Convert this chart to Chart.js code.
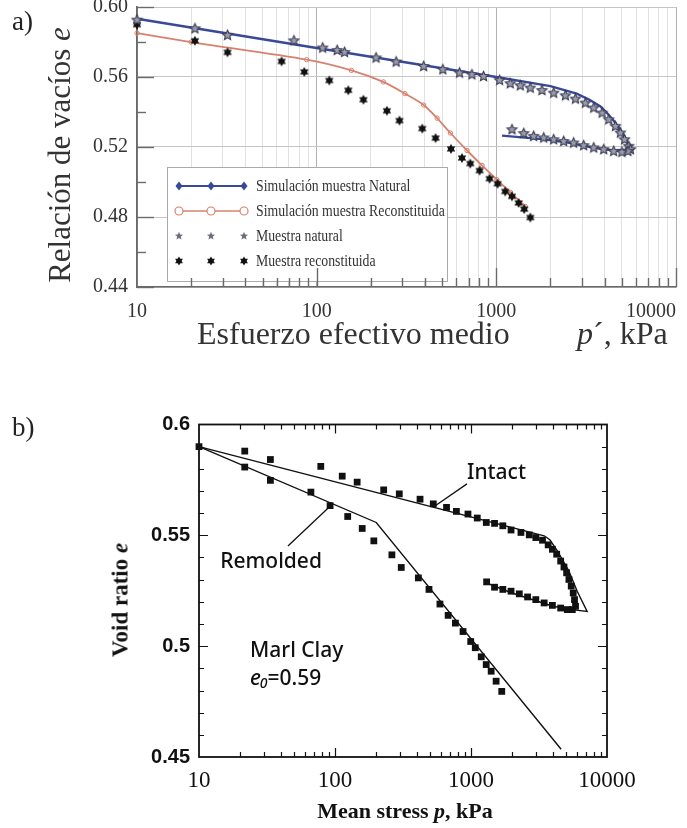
<!DOCTYPE html>
<html>
<head>
<meta charset="utf-8">
<script src="https://cdn.jsdelivr.net/npm/chart.js@4.4.0/dist/chart.umd.min.js"></script>
<style>
  html, body { margin: 0; padding: 0; background: #fff; }
  body { width: 687px; height: 828px; position: relative; overflow: hidden; }
  canvas { position: absolute; left: 0; }
  #chartA { top: 0; }
  #chartB { top: 410px; }
  .t { position: absolute; white-space: nowrap; line-height: 1; color: #222; }
  .serif { font-family: "Liberation Serif", "Times New Roman", serif; }
  .rot { transform: translate(-50%, -50%) rotate(-90deg); }
</style>
</head>
<body>
<canvas id="chartA" width="687" height="320"></canvas>
<canvas id="chartB" width="687" height="400"></canvas>

<div class="t serif" style="left:12px; top:8px; font-size:27px;">a)</div>
<div class="t serif rot" style="left:59px; top:155px; font-size:31px; color:#333;">Relación de vacíos <i>e</i></div>
<div class="t serif" style="left:197px; top:317px; font-size:32px; color:#333;">Esfuerzo efectivo medio</div>
<div class="t serif" style="left:577px; top:317px; font-size:32px; color:#333;"><i>p</i>´, kPa</div>

<div class="t serif" style="left:12px; top:414px; font-size:27px;">b)</div>
<div class="t serif rot" style="left:120px; top:600px; font-size:23px; font-weight:bold; color:#111;">Void ratio <i>e</i></div>
<div class="t serif" style="left:405px; top:800px; font-size:22px; font-weight:bold; color:#111; transform:translateX(-50%);">Mean stress <i>p</i>, kPa</div>

<script>
// ---------- shared axis ticks ----------
const pTickValues = [10, 20, 30, 40, 50, 60, 70, 80, 90,
                     100, 200, 300, 400, 500, 600, 700, 800, 900,
                     1000, 2000, 3000, 4000, 5000, 6000, 7000, 8000, 9000, 10000];
const pTickLabels = [10, 100, 1000, 10000];

// ---------- a) ----------
const eTicksA  = [0.44, 0.46, 0.48, 0.50, 0.52, 0.54, 0.56, 0.58, 0.60];
const eLabelsA = [0.44, 0.48, 0.52, 0.56, 0.60];

// Simulación muestra Natural (loading, then unloading)
const simNatP = [10, 100, 1000, 2000, 2800, 3300, 3800, 4130, 4500, 4900, 5250, 5580,
                 4500, 3500, 2500, 1800, 1075];
const simNatE = [0.5933, 0.5766, 0.5600, 0.5548, 0.5505, 0.5470, 0.5432, 0.5394, 0.5350, 0.5300, 0.5245, 0.5185,
                 0.5180, 0.5195, 0.5225, 0.5245, 0.5265];

// Simulación muestra Reconstituida
const simRecP = [10, 20, 88, 156, 235, 310, 394, 468, 555, 687, 832, 1008, 1200, 1450];
const simRecE = [0.5851, 0.5799, 0.5699, 0.5638, 0.5572, 0.5505, 0.5440, 0.5365, 0.5280, 0.5180, 0.5095, 0.5013, 0.4940, 0.4860];

// Muestra natural (loading, then unloading)
const natP = [10, 21, 31.9, 74.7, 108, 130, 143, 214, 277, 394, 504, 624, 731, 849, 1043, 1195,
              1359, 1545, 1795, 2084, 2423, 2754, 3130, 3483, 3879, 4222, 4600, 4900, 5170, 5460, 5580,
              5400, 5000, 4497, 3960, 3483, 3061, 2692, 2370, 2085, 1834, 1612, 1420, 1222];
const natE = [0.5925, 0.5876, 0.5838, 0.5807, 0.5766, 0.5752, 0.5741, 0.5709, 0.5686, 0.5660, 0.5642, 0.5623, 0.5613, 0.5603, 0.5581, 0.5562,
              0.5550, 0.5537, 0.5523, 0.5508, 0.5493, 0.5474, 0.5451, 0.5423, 0.5394, 0.5356, 0.5318, 0.5280, 0.5242, 0.5204, 0.5185,
              0.5175, 0.5170, 0.5175, 0.5185, 0.5195, 0.5208, 0.5223, 0.5232, 0.5242, 0.5252, 0.5261, 0.5277, 0.5299];

// Muestra reconstituida
const recP = [10, 21, 31.9, 63.8, 85.3, 117.5, 150, 182, 246, 289, 387, 459, 559, 644, 716, 807, 917, 1016,
              1121, 1222, 1331, 1430, 1546];
const recE = [0.5899, 0.5807, 0.5741, 0.5689, 0.5629, 0.5580, 0.5524, 0.5470, 0.5407, 0.5351, 0.5305, 0.5251, 0.5189, 0.5137, 0.5105, 0.5065, 0.5019, 0.4990,
              0.4946, 0.4918, 0.4880, 0.4845, 0.4797];

const legendItemsA = ['Simulación muestra Natural', 'Simulación muestra Reconstituida',
                      'Muestra natural', 'Muestra reconstituida'];

// ---------- b) ----------
const eTicksB = [0.45, 0.46, 0.47, 0.48, 0.49, 0.50, 0.51, 0.52, 0.53, 0.54, 0.55, 0.56, 0.57, 0.58, 0.59, 0.60];
const eLabelsB = [0.45, 0.50, 0.55, 0.60];

// model curves
const intactSimP = [10, 3450, 3800, 4313, 5248, 6036, 7145, 5500, 4000, 3000, 2000, 1303];
const intactSimE = [0.5900, 0.5498, 0.5480, 0.5430, 0.5339, 0.5248, 0.5157, 0.5165, 0.5180, 0.5205, 0.5240, 0.5285];
const remoldSimP = [10, 201, 4600];
const remoldSimE = [0.5900, 0.5558, 0.4535];

// measured, intact (loading, then unloading)
const intactP = [10, 21.7, 33.5, 78.6, 113, 145.5, 228, 297, 422, 528, 661, 781, 950, 1112, 1295, 1490, 1714,
                 1970, 2329, 2682, 2997, 3355, 3694, 3968, 4266, 4563, 4826, 5047, 5248, 5458, 5646, 5770, 5870, 5560,
                 5108, 4563, 3968, 3450, 2997, 2606, 2266, 1970, 1714, 1490, 1303];
const intactE = [0.5900, 0.5880, 0.5842, 0.5811, 0.5767, 0.5740, 0.5705, 0.5687, 0.5663, 0.5642, 0.5626, 0.5608, 0.5596, 0.5578, 0.5558, 0.5554, 0.5543,
                 0.5524, 0.5513, 0.5502, 0.5490, 0.5478, 0.5457, 0.5437, 0.5415, 0.5384, 0.5357, 0.5331, 0.5301, 0.5271, 0.5240, 0.5210, 0.5180, 0.5165,
                 0.5165, 0.5172, 0.5184, 0.5195, 0.5210, 0.5222, 0.5236, 0.5248, 0.5256, 0.5266, 0.5290];

// measured, remolded
const remoldP = [21.7, 33.5, 66.5, 92, 124, 158.5, 193, 262, 307, 410, 491, 591, 679, 768, 874, 995, 1075,
                 1189, 1294, 1407, 1530, 1683];
const remoldE = [0.5808, 0.5748, 0.5695, 0.5634, 0.5585, 0.5531, 0.5475, 0.5412, 0.5355, 0.5308, 0.5256, 0.5190, 0.5139, 0.5104, 0.5066, 0.5021, 0.4993,
                 0.4952, 0.4917, 0.4887, 0.4842, 0.4796];

// text placed in data coordinates of panel b
const labelsB = [
  { text: 'Intact',    p: 934,  e: 0.5779 },
  { text: 'Remolded',  p: 14.3, e: 0.5378 },
  { text: 'Marl Clay', p: 23.7, e: 0.4976 }
];
const e0LabelB = { p: 23.7, e: 0.4854, value: '=0.59' };
const leadersB = [
  { from: [934, 0.5732], to: [553, 0.5636] },
  { from: [45.1, 0.5452], to: [96.6, 0.5644] }
];

// ---------- helpers ----------
const pts = (xs, ys) => xs.map((v, i) => ({ x: v, y: ys[i] }));
const near = (list, v) => list.some(l => Math.abs(l - v) < 1e-9);
const isDecade = v => near(pTickLabels, v);

function starPath(g, cx, cy, n, ro, ri) {
  g.beginPath();
  for (let k = 0; k < 2 * n; k++) {
    const r = k % 2 ? ri : ro;
    const a = -Math.PI / 2 + k * Math.PI / n;
    const px = cx + r * Math.cos(a), py = cy + r * Math.sin(a);
    if (k) g.lineTo(px, py); else g.moveTo(px, py);
  }
  g.closePath();
}
function markerImage(n, ro, ri, fill, stroke) {
  const c = document.createElement('canvas');
  c.width = c.height = Math.ceil(ro * 2 + 4);
  const g = c.getContext('2d');
  starPath(g, c.width / 2, c.height / 2, n, ro, ri);
  g.fillStyle = fill; g.fill();
  if (stroke) { g.strokeStyle = stroke; g.lineWidth = 1.1; g.stroke(); }
  return c;
}
const natMarker = markerImage(5, 5.2, 2.4, '#9c9dab', '#383a52');
const recMarker = markerImage(6, 4.9, 2.8, '#111', null);

const BLUE = '#3a4898', SALMON = '#d7826f';

// ---------- a) decorations: legend box and inner ticks ----------
const decorA = {
  id: 'decorA',
  afterDatasetsDraw(chart) {
    const { ctx, chartArea: a, scales: { x, y } } = chart;
    ctx.save();
    // legend
    const bx = 167, by = 167, bw = 280, bh = 114;
    ctx.fillStyle = '#fff';
    ctx.fillRect(bx, by, bw, bh);
    ctx.strokeStyle = '#aaa'; ctx.lineWidth = 1;
    ctx.strokeRect(bx + 0.5, by + 0.5, bw, bh);
    const rows = [186, 211, 236, 261];
    const sx = [179, 211, 244];
    // row 1
    ctx.strokeStyle = BLUE; ctx.lineWidth = 1.8;
    ctx.beginPath(); ctx.moveTo(sx[0], rows[0]); ctx.lineTo(sx[2], rows[0]); ctx.stroke();
    ctx.fillStyle = BLUE;
    sx.forEach(cx => {
      ctx.beginPath();
      ctx.moveTo(cx, rows[0] - 4.5); ctx.lineTo(cx + 3.5, rows[0]);
      ctx.lineTo(cx, rows[0] + 4.5); ctx.lineTo(cx - 3.5, rows[0]); ctx.closePath(); ctx.fill();
    });
    // row 2
    ctx.strokeStyle = SALMON; ctx.lineWidth = 1.6;
    ctx.beginPath(); ctx.moveTo(sx[0], rows[1]); ctx.lineTo(sx[2], rows[1]); ctx.stroke();
    sx.forEach(cx => {
      ctx.beginPath(); ctx.arc(cx, rows[1], 4, 0, Math.PI * 2);
      ctx.fillStyle = '#fff'; ctx.fill(); ctx.lineWidth = 1.2; ctx.stroke();
    });
    // row 3 and 4
    sx.forEach(cx => {
      starPath(ctx, cx, rows[2], 5, 4.3, 1.9); ctx.fillStyle = '#6d6d78'; ctx.fill();
      starPath(ctx, cx, rows[3], 6, 4.5, 2.6); ctx.fillStyle = '#111'; ctx.fill();
    });
    ctx.fillStyle = '#333';
    ctx.font = '16px "Liberation Serif", serif';
    ctx.textBaseline = 'middle';
    legendItemsA.forEach((txt, i) => {
      ctx.save(); ctx.translate(256, rows[i] + 0.5); ctx.scale(0.86, 1);
      ctx.fillText(txt, 0, 0); ctx.restore();
    });

    // inner ticks
    ctx.strokeStyle = '#6a6a6a'; ctx.lineWidth = 1.4;
    eTicksA.forEach(v => {
      const py = Math.round(y.getPixelForValue(v)) + 0.5;
      const len = near(eLabelsA, v) ? 17 : 9;
      ctx.beginPath(); ctx.moveTo(a.left, py); ctx.lineTo(a.left + len, py); ctx.stroke();
    });
    pTickValues.forEach(v => {
      if (v === 10) return;
      const px = Math.round(x.getPixelForValue(v)) + 0.5;
      const len = isDecade(v) ? 19 : 9;
      ctx.beginPath(); ctx.moveTo(px, a.bottom); ctx.lineTo(px, a.bottom - len); ctx.stroke();
    });
    ctx.restore();
  }
};

new Chart(document.getElementById('chartA'), {
  type: 'scatter',
  data: {
    datasets: [
      { label: legendItemsA[2], data: pts(natP, natE), pointStyle: natMarker, pointRadius: 5, showLine: false, clip: false },
      { label: legendItemsA[3], data: pts(recP, recE), pointStyle: recMarker, pointRadius: 5, showLine: false, clip: false },
      { label: legendItemsA[0], data: pts(simNatP, simNatE), showLine: true, borderColor: BLUE, borderWidth: 2.4,
        pointRadius: 0, tension: 0, clip: false },
      { label: legendItemsA[1], data: pts(simRecP, simRecE), showLine: true, borderColor: SALMON, borderWidth: 1.8,
        pointRadius: 2.2, pointStyle: 'circle', pointBorderColor: SALMON, pointBackgroundColor: 'rgba(255,255,255,0)',
        pointBorderWidth: 1, tension: 0.25, clip: false }
    ]
  },
  options: {
    responsive: false, animation: false, devicePixelRatio: 1, events: [],
    layout: { padding: { top: 7, right: 11, bottom: 0, left: 0 } },
    plugins: { legend: { display: false }, tooltip: { enabled: false } },
    scales: {
      x: {
        type: 'logarithmic', min: 10, max: 10000,
        afterBuildTicks: s => { s.ticks = [{ value: 9.999 }].concat(pTickValues.map(v => ({ value: v }))); },
        afterFit: s => { s.height = 33; s.paddingLeft = 0; s.paddingRight = 0; },
        ticks: {
          align: 'inner', autoSkip: false, maxRotation: 0, padding: 13, color: '#333',
          font: { family: '"Liberation Serif", serif', size: 20 },
          callback: v => isDecade(v) ? String(v) : ''
        },
        grid: {
          drawTicks: false, lineWidth: 1,
          color: c => (c.tick && isDecade(c.tick.value)) ? '#b2b2b2'
                    : (c.tick && near(pTickValues, c.tick.value)) ? '#e2e2e2' : 'rgba(0,0,0,0)'
        },
        border: { color: '#6a6a6a', width: 1.6 }
      },
      y: {
        min: 0.44, max: 0.60,
        afterBuildTicks: s => { s.ticks = eTicksA.map(v => ({ value: v })); },
        afterFit: s => { s.width = 137; s.paddingTop = 0; s.paddingBottom = 0; },
        ticks: {
          autoSkip: false, padding: 9, color: '#333',
          font: { family: '"Liberation Serif", serif', size: 20 },
          callback: v => near(eLabelsA, v) ? v.toFixed(2) : ''
        },
        grid: {
          drawTicks: false, lineWidth: 1,
          color: c => (c.tick && near(eLabelsA, c.tick.value)) ? '#c6c6c6' : 'rgba(0,0,0,0)'
        },
        border: { color: '#6a6a6a', width: 1.8 }
      }
    }
  },
  plugins: [decorA]
});

// ---------- b) decorations: frame, inner ticks, labels ----------
const decorB = {
  id: 'decorB',
  afterDatasetsDraw(chart) {
    const { ctx, chartArea: a, scales: { x, y } } = chart;
    ctx.save();
    ctx.strokeStyle = '#111';
    ctx.lineWidth = 1.8;
    ctx.strokeRect(a.left, a.top, a.right - a.left, a.bottom - a.top);
    ctx.lineWidth = 1.2;
    pTickValues.forEach(v => {
      if (v === 10 || v === 10000) return;
      const px = Math.round(x.getPixelForValue(v)) + 0.5;
      const len = isDecade(v) ? 9 : 5;
      ctx.beginPath();
      ctx.moveTo(px, a.bottom); ctx.lineTo(px, a.bottom - len);
      ctx.moveTo(px, a.top); ctx.lineTo(px, a.top + len);
      ctx.stroke();
    });
    eTicksB.forEach(v => {
      if (v === 0.45 || v === 0.60) return;
      const py = Math.round(y.getPixelForValue(v)) + 0.5;
      const len = near(eLabelsB, v) ? 9 : 5;
      ctx.beginPath();
      ctx.moveTo(a.left, py); ctx.lineTo(a.left + len, py);
      ctx.moveTo(a.right, py); ctx.lineTo(a.right - len, py);
      ctx.stroke();
    });
    // leader lines
    ctx.lineWidth = 1.3;
    leadersB.forEach(l => {
      ctx.beginPath();
      ctx.moveTo(x.getPixelForValue(l.from[0]), y.getPixelForValue(l.from[1]));
      ctx.lineTo(x.getPixelForValue(l.to[0]), y.getPixelForValue(l.to[1]));
      ctx.stroke();
    });
    // labels
    ctx.fillStyle = '#111';
    ctx.textBaseline = 'middle';
    const F = '"Noto Sans", "Open Sans", sans-serif';
    ctx.font = '500 21px ' + F;
    labelsB.forEach(l => ctx.fillText(l.text, x.getPixelForValue(l.p), y.getPixelForValue(l.e)));
    let ex = x.getPixelForValue(e0LabelB.p);
    const ey = y.getPixelForValue(e0LabelB.e);
    ctx.font = 'italic 500 21px ' + F;
    ctx.fillText('e', ex, ey);
    ex += ctx.measureText('e').width;
    ctx.font = 'italic 500 14px ' + F;
    ctx.fillText('0', ex - 1, ey + 5);
    ex += ctx.measureText('0').width - 1;
    ctx.font = '500 21px ' + F;
    ctx.fillText(e0LabelB.value, ex, ey);
    ctx.restore();
  }
};

new Chart(document.getElementById('chartB'), {
  type: 'scatter',
  data: {
    datasets: [
      { label: 'Intact', data: pts(intactP, intactE), pointStyle: 'rect', pointRadius: 4.8,
        pointBackgroundColor: '#111', pointBorderWidth: 0, showLine: false, clip: false },
      { label: 'Remolded', data: pts(remoldP, remoldE), pointStyle: 'rect', pointRadius: 4.8,
        pointBackgroundColor: '#111', pointBorderWidth: 0, showLine: false, clip: false },
      { label: 'Intact model', data: pts(intactSimP, intactSimE), showLine: true, borderColor: '#111',
        borderWidth: 1.4, pointRadius: 0, tension: 0, clip: false },
      { label: 'Remolded model', data: pts(remoldSimP, remoldSimE), showLine: true, borderColor: '#111',
        borderWidth: 1.4, pointRadius: 0, tension: 0, clip: false }
    ]
  },
  options: {
    responsive: false, animation: false, devicePixelRatio: 1, events: [],
    layout: { padding: { top: 14.5, right: 80, bottom: 0, left: 0 } },
    plugins: { legend: { display: false }, tooltip: { enabled: false } },
    scales: {
      x: {
        type: 'logarithmic', min: 10, max: 10000,
        afterBuildTicks: s => { s.ticks = pTickValues.map(v => ({ value: v })); },
        afterFit: s => { s.height = 53; s.paddingLeft = 0; s.paddingRight = 0; },
        ticks: {
          autoSkip: false, maxRotation: 0, padding: 10, color: '#111',
          font: { family: '"Liberation Serif", serif', size: 23 },
          callback: v => isDecade(v) ? String(v) : ''
        },
        grid: { display: true, drawOnChartArea: false, drawTicks: false },
        border: { display: false }
      },
      y: {
        min: 0.45, max: 0.60,
        afterBuildTicks: s => { s.ticks = eTicksB.map(v => ({ value: v })); },
        afterFit: s => { s.width = 199; s.paddingTop = 0; s.paddingBottom = 0; },
        ticks: {
          autoSkip: false, padding: 9, color: '#111',
          font: { family: '"Liberation Sans", sans-serif', size: 20, weight: 'bold' },
          callback: v => near(eLabelsB, v) ? String(parseFloat(v.toFixed(2))) : ''
        },
        grid: { display: true, drawOnChartArea: false, drawTicks: false },
        border: { display: false }
      }
    }
  },
  plugins: [decorB]
});
</script>
</body>
</html>
